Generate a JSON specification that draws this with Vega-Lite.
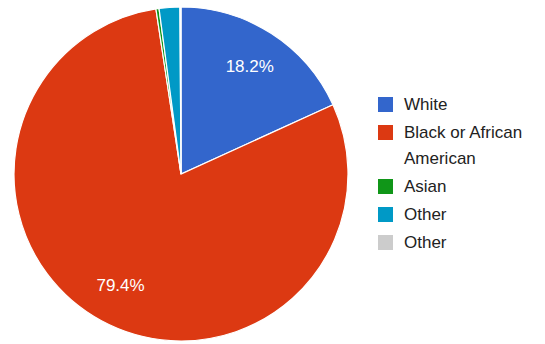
{
  "$schema": "https://vega.github.io/schema/vega-lite/v6.json",
  "width": 362,
  "height": 348,
  "autosize": {"type": "none"},
  "padding": {"left": 0, "top": 0, "right": 183, "bottom": 0},
  "background": "white",
  "config": {"style": {"guide-label": {"lineHeight": 26}}},
  "data": {
    "values": [
      {"race": "White", "value": 0.182, "order": 1},
      {"race": "Black or African American", "value": 0.794, "order": 2},
      {"race": "Asian", "value": 0.003, "order": 3},
      {"race": "Other", "value": 0.02, "order": 4},
      {"race": "Other ", "value": 0.001, "order": 5}
    ]
  },
  "encoding": {
    "theta": {"field": "value", "type": "quantitative", "stack": true},
    "order": {"field": "order", "type": "quantitative"}
  },
  "layer": [
    {
      "mark": {"type": "arc", "outerRadius": 167, "stroke": "white", "strokeWidth": 1.2},
      "encoding": {
        "color": {
          "field": "race",
          "type": "nominal",
          "scale": {
            "domain": ["White", "Black or African American", "Asian", "Other", "Other "],
            "range": ["#3366cc", "#dc3912", "#109618", "#0099c6", "#cccccc"]
          },
          "legend": {
            "title": null,
            "orient": "none",
            "legendX": 377,
            "legendY": 96,
            "symbolType": "square",
            "symbolSize": 225,
            "symbolStrokeWidth": 0,
            "labelFont": "Liberation Sans",
            "labelFontSize": 17,
            "labelColor": "#222222",
            "labelOffset": 10,
            "labelLimit": 200,
            "rowPadding": 10,
            "labelExpr": "datum.value == 'Black or African American' ? ['Black or African', 'American'] : datum.label"
          }
        }
      }
    },
    {
      "mark": {"type": "text", "radius": 127, "font": "Liberation Sans", "fontSize": 17, "fill": "white"},
      "encoding": {
        "text": {
          "condition": {"test": "datum.value > 0.05", "field": "value", "type": "quantitative", "format": ".1%"},
          "value": ""
        }
      }
    }
  ]
}
